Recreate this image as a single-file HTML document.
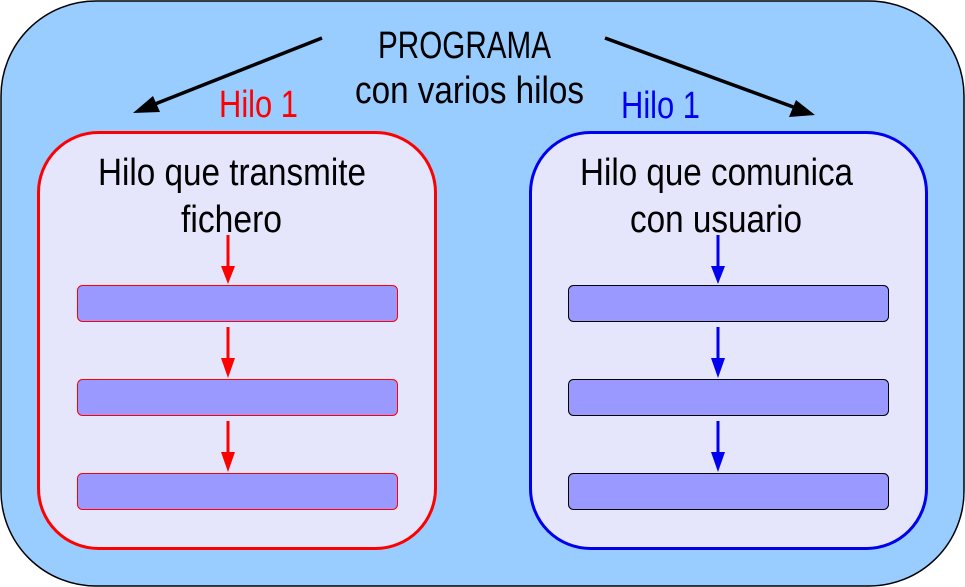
<!DOCTYPE html>
<html><head><style>html,body{margin:0;padding:0;background:#fff}svg{display:block}</style></head>
<body>
<svg width="965" height="587" viewBox="0 0 965 587" xmlns="http://www.w3.org/2000/svg" font-family="'Liberation Sans Narrow','Liberation Sans',sans-serif">
<rect x="1" y="1" width="963" height="585" rx="95" fill="#99ccff" stroke="#000" stroke-width="1.5"/>
<rect x="38.5" y="132.5" width="397" height="416" rx="60" fill="#e5e5fb" stroke="#ff0000" stroke-width="3"/>
<rect x="530.5" y="132.5" width="396" height="416" rx="60" fill="#e5e5fb" stroke="#0000ee" stroke-width="3"/>
<g fill="#9999ff" stroke="#ff0000" stroke-width="1">
<rect x="77.5" y="285.5" width="320" height="36" rx="5"/>
<rect x="77.5" y="379.5" width="320" height="36" rx="5"/>
<rect x="77.5" y="473.5" width="320" height="36" rx="5"/>
</g>
<g fill="#9999ff" stroke="#000" stroke-width="1">
<rect x="568.5" y="285.5" width="320" height="36" rx="5"/>
<rect x="568.5" y="379.5" width="320" height="36" rx="5"/>
<rect x="568.5" y="473.5" width="320" height="36" rx="5"/>
</g>
<g stroke="#ff0000" stroke-width="3" fill="#ff0000">
<line x1="228" y1="235" x2="228" y2="268"/><path d="M221,266 L235,266 L228,284 z" stroke="none"/>
<line x1="228" y1="327" x2="228" y2="360"/><path d="M221,358 L235,358 L228,378 z" stroke="none"/>
<line x1="228" y1="421" x2="228" y2="454"/><path d="M221,452 L235,452 L228,472 z" stroke="none"/>
</g>
<g stroke="#0000ee" stroke-width="3" fill="#0000ee">
<line x1="718" y1="235" x2="718" y2="268"/><path d="M711,266 L725,266 L718,284 z" stroke="none"/>
<line x1="718" y1="327" x2="718" y2="360"/><path d="M711,358 L725,358 L718,378 z" stroke="none"/>
<line x1="718" y1="421" x2="718" y2="454"/><path d="M711,452 L725,452 L718,472 z" stroke="none"/>
</g>
<g stroke="#000" stroke-width="3.5" fill="#000">
<line x1="322" y1="38" x2="150" y2="106"/><path d="M133,113 L153,96 L160,112 z" stroke="none"/>
<line x1="605" y1="38" x2="796" y2="108"/><path d="M815,115 L789,117 L796,100 z" stroke="none"/>
</g>
<g font-size="38" fill="#000">
<text x="378" y="58" textLength="173" lengthAdjust="spacingAndGlyphs">PROGRAMA</text>
<text x="355" y="103" textLength="229" lengthAdjust="spacingAndGlyphs">con varios hilos</text>
<text x="98" y="185" textLength="268" lengthAdjust="spacingAndGlyphs">Hilo que transmite</text>
<text x="181" y="232" textLength="101" lengthAdjust="spacingAndGlyphs">fichero</text>
<text x="580" y="185" textLength="273" lengthAdjust="spacingAndGlyphs">Hilo que comunica</text>
<text x="630" y="232" textLength="172" lengthAdjust="spacingAndGlyphs">con usuario</text>
</g>
<text x="219" y="117" font-size="38" fill="#ff0000" textLength="79" lengthAdjust="spacingAndGlyphs">Hilo 1</text>
<text x="621" y="118" font-size="38" fill="#0000ee" textLength="79" lengthAdjust="spacingAndGlyphs">Hilo 1</text>
</svg>
</body></html>
